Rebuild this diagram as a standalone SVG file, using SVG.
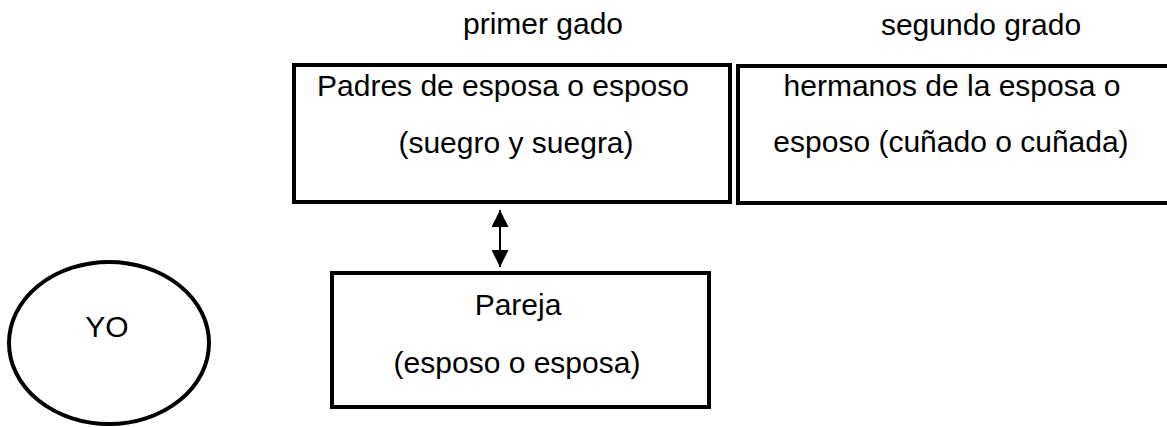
<svg xmlns="http://www.w3.org/2000/svg" width="1167" height="427" viewBox="0 0 1167 427">
<style>
  .box { fill: #ffffff; stroke: #000000; stroke-width: 4; }
  .lbl { font-family: "Liberation Sans", Arial, sans-serif; font-size: 30px; fill: #000000; text-anchor: middle; }
  .conn { stroke: #000000; stroke-width: 2; fill: none; }
</style>
<defs>
  <marker id="ah" viewBox="0 0 10 10" refX="10" refY="5" markerWidth="17" markerHeight="17" markerUnits="userSpaceOnUse" orient="auto-start-reverse">
    <path d="M0,0 L10,5 L0,10 Z" fill="#000000"/>
  </marker>
</defs>
<rect width="1167" height="427" fill="#ffffff"/>
<g id="header-primer">
  <text class="lbl" x="543" y="34">primer gado</text>
</g>
<g id="header-segundo">
  <text class="lbl" x="981" y="35">segundo grado</text>
</g>
<g id="node-suegros">
  <rect class="box" x="294" y="65" width="436" height="137"/>
  <text class="lbl" x="503" y="96">Padres de esposa o esposo</text>
  <text class="lbl" x="516" y="153">(suegro y suegra)</text>
</g>
<g id="node-cunados">
  <rect class="box" x="738" y="66" width="440" height="137"/>
  <text class="lbl" x="952" y="96">hermanos de la esposa o</text>
  <text class="lbl" x="951" y="152">esposo (cuñado o cuñada)</text>
</g>
<g id="node-pareja">
  <rect class="box" x="332" y="273" width="377" height="134"/>
  <text class="lbl" x="518" y="315">Pareja</text>
  <text class="lbl" x="517" y="373">(esposo o esposa)</text>
</g>
<g id="node-yo">
  <ellipse class="box" cx="109" cy="343" rx="100" ry="81"/>
  <text class="lbl" x="107" y="337">YO</text>
</g>
<g id="connectors">
  <line class="conn" x1="500" y1="210" x2="500" y2="267" marker-start="url(#ah)" marker-end="url(#ah)"/>
</g>
</svg>
